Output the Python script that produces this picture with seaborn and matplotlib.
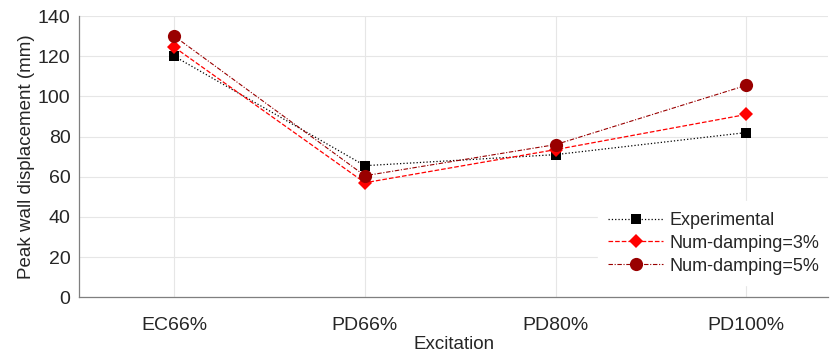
import pandas as pd
import seaborn as sns
import matplotlib.pyplot as plt

# Values
excitations = ["EC66%", "PD66%", "PD80%", "PD100%"]
experimental = [120, 65.5, 71, 82]
num_damping_3 = [124.5, 57, 73.5, 91]
num_damping_5 = [130, 60.5, 76, 105.5]

series = {
    "Experimental": experimental,
    "Num-damping=3%": num_damping_3,
    "Num-damping=5%": num_damping_5,
}
rows = []
for name, vals in series.items():
    for i, (exc, v) in enumerate(zip(excitations, vals)):
        rows.append({"pos": i, "Excitation": exc, "value": v, "series": name})
df = pd.DataFrame(rows)

sns.set_style("whitegrid")
plt.rcParams["font.family"] = ["Liberation Sans", "DejaVu Sans"]

fig, ax = plt.subplots(figsize=(8.3, 3.56), dpi=100)

styles = {
    "Experimental": dict(color="black", ls=":", marker="s", ms=7.5, lw=0.9),
    "Num-damping=3%": dict(color="#ff0000", ls="--", marker="D", ms=7.5, lw=0.9),
    "Num-damping=5%": dict(color="#990000", ls=(0, (4, 1.5, 1, 1.5)), marker="o", ms=9.5, lw=0.8),
}
for name, st in styles.items():
    sub = df[df["series"] == name]
    sns.lineplot(
        data=sub, x="pos", y="value", ax=ax, label=name,
        color=st["color"], linestyle=st["ls"], marker=st["marker"],
        markersize=st["ms"], linewidth=st["lw"], markeredgewidth=0,
    )

ax.set_xlim(-0.5, 3.43)
ax.set_ylim(0, 140)
ax.set_yticks(range(0, 141, 20))
ax.set_xticks(range(len(excitations)))
ax.set_xticklabels(excitations)
ax.set_xlabel("Excitation", fontsize=13.5, color="#262626", labelpad=2)
ax.set_ylabel("Peak wall displacement (mm)", fontsize=13.5, color="#262626", labelpad=2)
ax.tick_params(axis="both", labelsize=14, colors="#262626", direction="in",
               length=4, color="#7f7f7f", width=0.8)
ax.tick_params(axis="x", pad=14)
ax.tick_params(axis="y", pad=6)
ax.grid(True, color="#e6e6e6", linewidth=0.8)
for side in ["top", "right"]:
    ax.spines[side].set_visible(False)
for side in ["left", "bottom"]:
    ax.spines[side].set_color("#7f7f7f")
    ax.spines[side].set_linewidth(0.9)

leg = ax.legend(loc="lower right", frameon=True, fontsize=13,
                handlelength=3.0, handletextpad=0.4, borderaxespad=0.5,
                labelspacing=0.32, borderpad=0.6,
                bbox_to_anchor=(1.015, 0.01))
leg.get_frame().set_edgecolor("white")
leg.get_frame().set_facecolor("white")
leg.get_frame().set_alpha(1)
for t in leg.get_texts():
    t.set_color("#262626")

plt.subplots_adjust(left=0.095, right=0.998, top=0.955, bottom=0.165)
plt.savefig("out.png", dpi=100)
